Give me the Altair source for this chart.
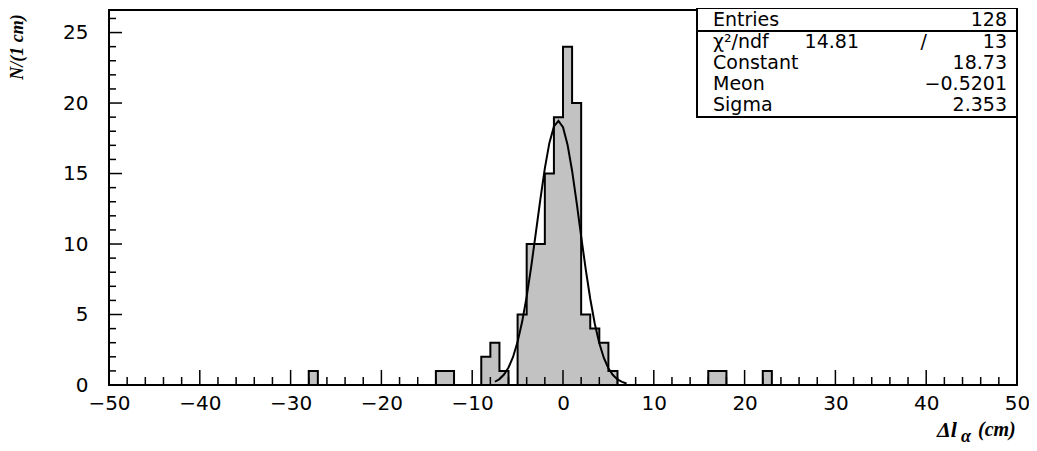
import altair as alt
import pandas as pd

# Histogram bins (lower edges, 1 cm wide) and counts
bin_lo = [-28, -14, -13, -9, -8, -7, -5, -4, -3, -2, -1, 0, 1, 2, 3, 4, 5, 16, 17, 22]
counts = [1, 1, 1, 2, 3, 1, 5, 10, 10, 15, 19, 24, 20, 5, 4, 3, 1, 1, 1, 1]

# Fitted curve, points
curve_x = [-7.5, -7, -6.5, -6, -5.5, -5, -4.5, -4, -3.5, -3, -2.5, -2, -1.5, -1, -0.5,
           0, 0.5, 1, 1.5, 2, 2.5, 3, 3.5, 4, 4.5, 5, 5.5, 6, 6.5, 7]
curve_y = [0.23, 0.42, 0.74, 1.24, 1.99, 3.06, 4.48, 6.27, 8.40, 10.75, 13.14, 15.37, 17.17, 18.34, 18.73,
           18.28, 17.05, 15.20, 12.96, 10.55, 8.22, 6.12, 4.35, 2.96, 1.92, 1.19, 0.71, 0.40, 0.22, 0.11]

x_major = [-50, -40, -30, -20, -10, 0, 10, 20, 30, 40, 50]
x_minor = [v for v in range(-48, 50, 2) if v % 10 != 0]
y_major = [0, 5, 10, 15, 20, 25]
y_minor = [v for v in range(1, 27) if v % 5 != 0]

stat_names = ["Entries", "χ²/ndf", "Constant", "Meon", "Sigma"]
stat_values = ["128", "13", "18.73", "−0.5201", "2.353"]

W, H = 908, 375
XMIN, XMAX, YMAX = -50, 50, 26.6
FONT = "DejaVu Sans"
SERIF = "Liberation Serif"
GREY = "#c2c2c2"

xs = alt.Scale(domain=[XMIN, XMAX], nice=False, zero=False)
ys = alt.Scale(domain=[0, YMAX], nice=False)

bars = pd.DataFrame({"lo": bin_lo, "hi": [b + 1 for b in bin_lo], "n": counts})
lookup = dict(zip(bin_lo, counts))
step = pd.DataFrame({"x": list(range(XMIN, XMAX + 1)),
                     "n": [lookup.get(v, 0) for v in range(XMIN, XMAX + 1)]})
curve = pd.DataFrame({"x": curve_x, "y": curve_y})

fill = alt.Chart(bars).mark_rect(color=GREY, stroke=GREY, strokeWidth=1).encode(
    x=alt.X("lo:Q", scale=xs, axis=alt.Axis(values=x_major, ticks=False, domain=False, grid=False,
                                             labelFont=FONT, labelFontSize=20, labelColor="black",
                                             labelFlush=False, labelPadding=8, title=None, format="d")),
    x2="hi:Q",
    y=alt.Y("n:Q", scale=ys, axis=alt.Axis(values=y_major, ticks=False, domain=False, grid=False,
                                            labelFont=FONT, labelFontSize=20, labelColor="black",
                                            labelPadding=21, title=None)),
    y2=alt.datum(0),
)

outline = alt.Chart(step).mark_line(interpolate="step-after", color="black", strokeWidth=2).encode(
    x=alt.X("x:Q", scale=xs), y=alt.Y("n:Q", scale=ys))

fit = alt.Chart(curve).mark_line(color="black", strokeWidth=2).encode(
    x=alt.X("x:Q", scale=xs), y=alt.Y("y:Q", scale=ys))

xmaj = alt.Chart(pd.DataFrame({"v": x_major})).mark_rule(color="black", strokeWidth=1.5).encode(
    x=alt.X("v:Q", scale=xs), y=alt.value(H), y2=alt.value(H - 15))
xmin = alt.Chart(pd.DataFrame({"v": x_minor})).mark_rule(color="black", strokeWidth=1.5).encode(
    x=alt.X("v:Q", scale=xs), y=alt.value(H), y2=alt.value(H - 8))
ymaj = alt.Chart(pd.DataFrame({"v": y_major})).mark_rule(color="black", strokeWidth=1.5).encode(
    y=alt.Y("v:Q", scale=ys), x=alt.value(0), x2=alt.value(13))
ymin = alt.Chart(pd.DataFrame({"v": y_minor})).mark_rule(color="black", strokeWidth=1.5).encode(
    y=alt.Y("v:Q", scale=ys), x=alt.value(0), x2=alt.value(7))

frame = alt.Chart(pd.DataFrame({"a": [0]})).mark_rect(fillOpacity=0, stroke="black", strokeWidth=2).encode(
    x=alt.value(0), x2=alt.value(W), y=alt.value(0), y2=alt.value(H))

# statistics box
BX0, BX1, BY0, BY1, SEP = 588, 908, -2, 107, 21
box = alt.Chart(pd.DataFrame({"a": [0]})).mark_rect(fill="white", stroke="black", strokeWidth=2).encode(
    x=alt.value(BX0), x2=alt.value(BX1), y=alt.value(BY0), y2=alt.value(BY1))
sep = alt.Chart(pd.DataFrame({"a": [0]})).mark_rule(color="black", strokeWidth=2).encode(
    x=alt.value(BX0), x2=alt.value(BX1), y=alt.value(SEP))

row_y = [10, 32, 53, 74, 95]
sdf = pd.DataFrame({"name": stat_names, "val": stat_values, "ry": row_y})
names = alt.Chart(sdf).mark_text(align="left", baseline="middle", font=FONT, fontSize=19, color="black").encode(
    x=alt.value(604), y=alt.Y("ry:Q", scale=None), text="name:N")
vals = alt.Chart(sdf).mark_text(align="right", baseline="middle", font=FONT, fontSize=19, color="black").encode(
    x=alt.value(898), y=alt.Y("ry:Q", scale=None), text="val:N")
chi = alt.Chart(pd.DataFrame({"t": ["14.81", "/"], "px": [750, 818]})).mark_text(
    align="right", baseline="middle", font=FONT, fontSize=19, color="black").encode(
    x=alt.X("px:Q", scale=None), y=alt.value(32), text="t:N")

# axis titles
ytitle = alt.Chart(pd.DataFrame({"t": ["N/(1 cm)"]})).mark_text(
    angle=270, align="center", baseline="middle", font=SERIF, fontSize=18, fontStyle="italic",
    fontWeight="bold", color="black").encode(x=alt.value(-91), y=alt.value(37), text="t:N")
xt = pd.DataFrame({"t": ["Δl", "α", "(cm)"], "px": [828, 852, 869], "py": [420, 427, 420],
                   "fs": [22, 18, 20]})
xtitle = alt.Chart(xt).mark_text(align="left", baseline="middle", font=SERIF, fontStyle="italic",
                                  fontWeight="bold", color="black").encode(
    x=alt.X("px:Q", scale=None), y=alt.Y("py:Q", scale=None), text="t:N",
    size=alt.Size("fs:Q", scale=None, legend=None))

chart = alt.layer(fill, outline, fit, xmaj, xmin, ymaj, ymin, frame, box, sep, names, vals, chi,
                  ytitle, xtitle).properties(
    width=W, height=H,
    autosize=alt.AutoSizeParams(type="none"),
    padding={"left": 101, "top": 2, "right": 12, "bottom": 66},
).configure_view(stroke=None).configure(background="white")

chart.save("out.html", embed_options={"renderer": "svg", "actions": False})
